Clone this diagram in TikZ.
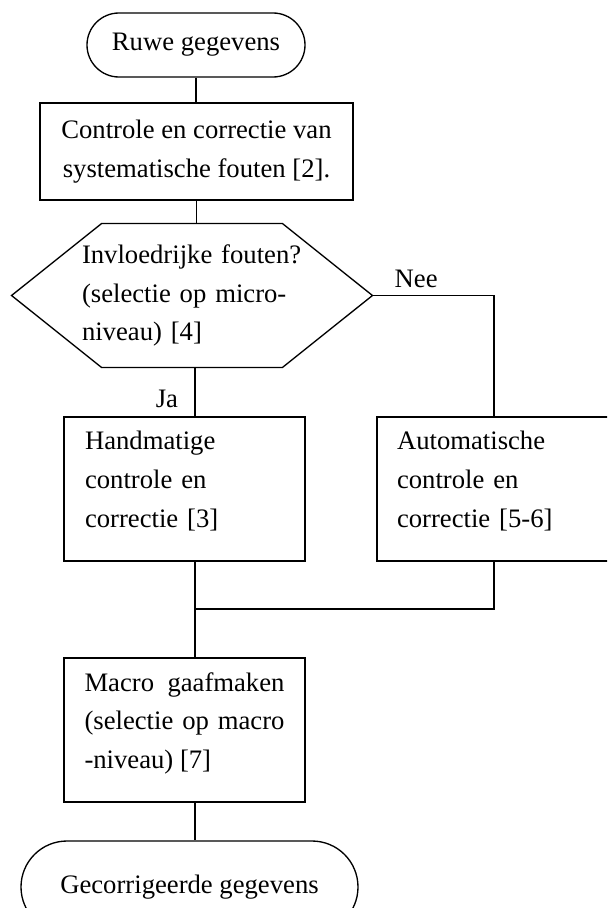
\documentclass[tikz,border=0pt]{standalone}
\usepackage{fontspec}
\setmainfont{Liberation Serif}
\usetikzlibrary{shapes.misc,calc}

\begin{document}
\begin{tikzpicture}[
  x=0.45pt, y=-0.45pt,
  every node/.style={font=\fontsize{12}{17.5}\selectfont},
  terminal/.style={draw, rounded rectangle, line width=0.6pt, inner sep=0pt},
  procbox/.style={draw, line width=0.6pt, minimum width=108.45pt,
                  minimum height=64.8pt, align=left, inner sep=0pt, text depth=43.5pt},
  conn/.style={draw, line width=0.6pt}
]
  \useasboundingbox (0,0) rectangle (607,908);
  \clip (0,0) rectangle (607,908);

  \node[terminal, minimum width=98.1pt, minimum height=28.8pt] (ruwe) at (196,45) {Ruwe gegevens};
  \node[draw, line width=0.6pt, minimum width=140.85pt, minimum height=43.65pt,
        align=center, inner sep=0pt] (sysfout) at (196.5,151.5) {Controle en correctie van\\systematische fouten [2].};

  % beslissing (zeshoek)
  \node[minimum width=162pt, minimum height=64.35pt, text width=99pt,
        align=left, inner sep=0pt] (invloed) at (192,295.5) {Invloedrijke fouten?\\(selectie op micro-\\niveau) [4]};
  \draw[conn] (invloed.west) -- ($(invloed.north west)+(90,0)$) -- ($(invloed.north east)+(-90,0)$)
    -- (invloed.east) -- ($(invloed.south east)+(-90,0)$) -- ($(invloed.south west)+(90,0)$) -- cycle;

  \node[procbox, text width=89.55pt] (hand) at (184.5,489) {Handmatige\\controle en\\correctie [3]};
  \node[procbox, minimum width=105.3pt, text width=87.3pt] (auto) at (494,489) {Automatische\\controle en\\correctie [5-6]};
  \node[procbox, text width=90pt, align=justify] (macro) at (184.5,730) {Macro gaafmaken\linebreak (selectie op macro\linebreak -niveau) [7]};
  \node[terminal, minimum width=151.65pt, minimum height=41.4pt] (gecorr) at (189.5,887) {Gecorrigeerde gegevens};

  \coordinate (samen) at (195,609);

  \draw[conn] (ruwe.south) -- (ruwe.south |- sysfout.north);
  \draw[conn] (sysfout.south) -- (sysfout.south |- invloed.north);
  \draw[conn] (invloed.east) -| node[pos=0.18, above] {Nee} (auto.north);
  \draw[conn] (invloed.south -| samen) -- node[pos=0.64, left=4pt] {Ja} (hand.north -| samen);
  \draw[conn] (hand.south -| samen) -- (macro.north -| samen);
  \draw[conn] (auto.south) |- (samen);
  \draw[conn] (macro.south -| samen) -- (gecorr.north -| samen);
\end{tikzpicture}
\end{document}
